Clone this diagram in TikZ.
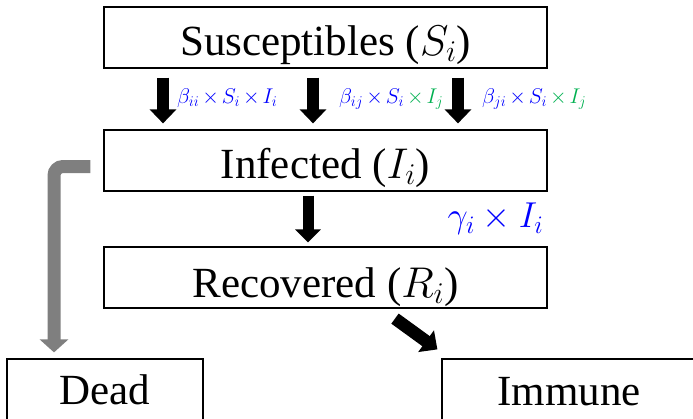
\RequirePackage{fix-cm}
\documentclass[tikz,border=0pt]{standalone}
\usepackage{fontspec}
\setmainfont{Liberation Serif}
\usetikzlibrary{arrows.meta,calc}
\definecolor{lblblue}{RGB}{0,0,255}
\definecolor{lblgreen}{RGB}{0,176,80}
\definecolor{arrgray}{RGB}{127,127,127}
\newcommand\ratefont{\fontsize{21.3}{25}\selectfont\medmuskip=2.5mu\relax}
\begin{document}
\begin{tikzpicture}[x=1pt,y=-1pt,
 box/.style={draw=black,line width=1.2pt,inner sep=0pt,minimum height=61pt,text depth=0pt,font=\fontsize{43}{50}\selectfont},
 blk/.style={draw=black,line width=12.5pt,-{Triangle[width=26pt,length=14pt]}},
 gry/.style={draw=arrgray,line width=13pt,-{Triangle[width=28pt,length=13pt]},rounded corners=9pt},
 rate/.style={text=lblblue,inner sep=0pt,font=\ratefont},
]
\clip (0,0) rectangle (693,418);
\node[box,minimum width=443pt,text height=35pt] (S) at (325.5,37.5) {Susceptibles ($S_i$)};
\node[box,minimum width=443pt,text height=36pt] (I) at (325.5,160.5) {Infected ($I_i$)};
\node[box,minimum width=443pt,text height=39pt] (R) at (325.5,277.5) {Recovered ($R_i$)};
\node[box,minimum width=196pt,text height=29pt] (D) at (105,389.5) {Dead};
\node[box,minimum width=254pt,text height=31pt] (M) at (569,389.5) {Immune};

\draw[blk] ([xshift=-162.5pt,yshift=-9pt]S.south) -- ([xshift=-162.5pt,yshift=6pt]I.north);
\draw[blk] ([xshift=-12.5pt,yshift=-9pt]S.south) -- ([xshift=-12.5pt,yshift=6pt]I.north);
\draw[blk] ([xshift=132.5pt,yshift=-9pt]S.south) -- ([xshift=132.5pt,yshift=6pt]I.north);

\node[rate,anchor=base west] (l1) at ([xshift=-148.5pt,yshift=-35pt]S.south) {$\beta_{ii}\times S_i\times I_i$};
\node[rate,anchor=base west] (l2) at ([xshift=13.5pt,yshift=-35pt]S.south) {$\beta_{ij}\times S_i\mathbin{\textcolor{lblgreen}{\times}}\textcolor{lblgreen}{I_j}$};
\node[rate,anchor=base west] (l3) at ([xshift=156.5pt,yshift=-35pt]S.south) {$\beta_{ji}\times S_i\mathbin{\textcolor{lblgreen}{\times}}\textcolor{lblgreen}{I_j}$};

\draw[blk,line width=11pt,-{Triangle[width=25pt,length=13pt]}] ([xshift=-17.5pt,yshift=-4pt]I.south) -- ([xshift=-17.5pt,yshift=4pt]R.north);
\node[rate,font=\fontsize{36}{42}\selectfont,anchor=base east] (g) at ([xshift=-4pt,yshift=-36pt]I.south east) {$\gamma_i\times I_i$};

\draw[blk] ([xshift=69.5pt,yshift=-10pt]R.south) -- ([xshift=-4pt,yshift=9pt]M.north west);
\draw[gry] ([xshift=-13pt,yshift=-6pt]I.west) -| ([xshift=-51pt,yshift=6pt]D.north);
\end{tikzpicture}
\end{document}
